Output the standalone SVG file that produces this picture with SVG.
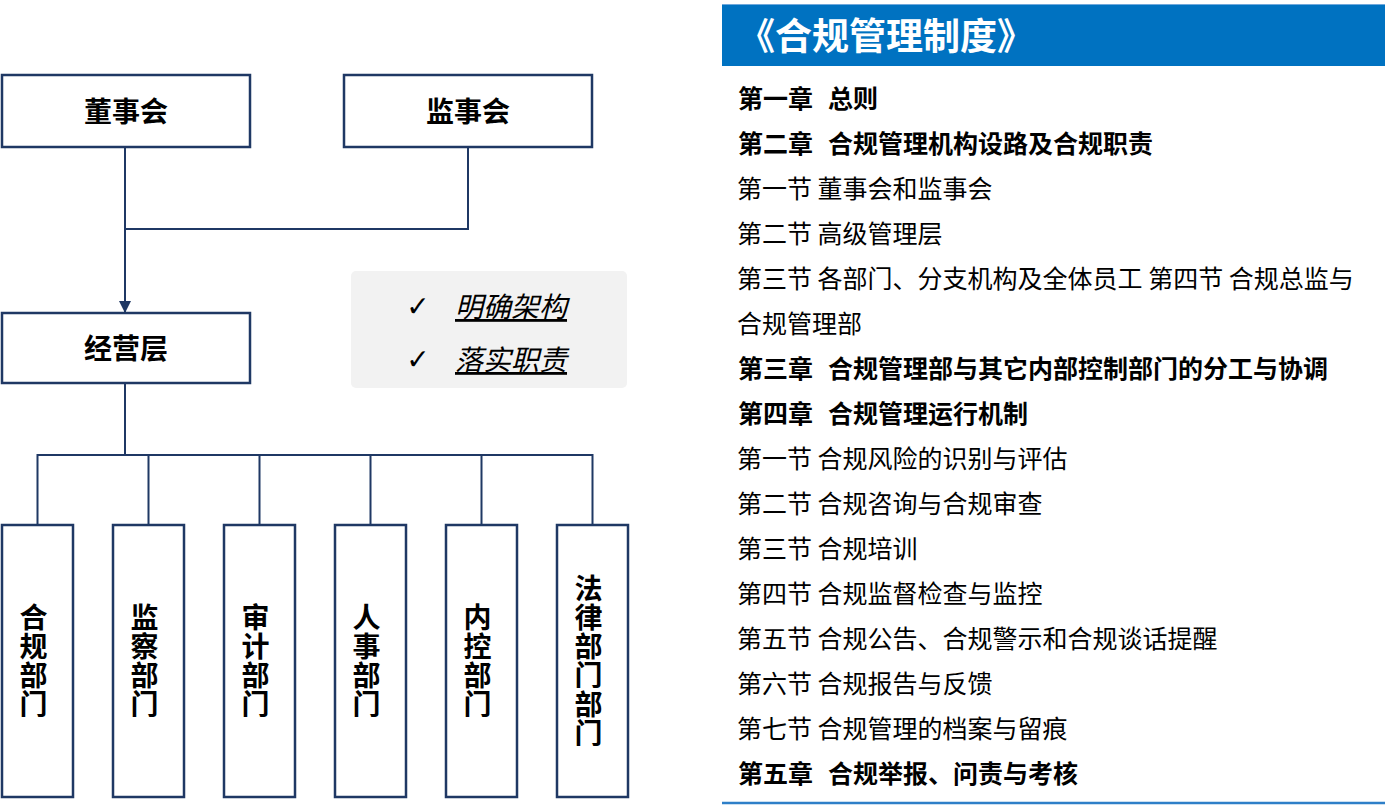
<svg xmlns="http://www.w3.org/2000/svg" width="1385" height="806" viewBox="0 0 1385 806">
<style>
.box{fill:#fff;stroke:#1F3864;stroke-width:2.5}
.ln{fill:none;stroke:#1F3864;stroke-width:2}
.nt{font-family:"Noto Sans CJK SC","Microsoft YaHei",sans-serif;font-weight:700;font-size:28px;fill:#000;text-anchor:middle}
.vt{font-family:"Noto Sans CJK SC","Microsoft YaHei",sans-serif;font-weight:700;font-size:28px;fill:#000;text-anchor:middle;writing-mode:vertical-rl;letter-spacing:1px}
.chk{font-family:"DejaVu Sans",sans-serif;font-size:28px;fill:#000;text-anchor:middle}
.it{font-family:"Noto Sans CJK SC","Microsoft YaHei",sans-serif;font-style:italic;font-size:28px;fill:#000;text-decoration:underline}
.reg{font-family:"Noto Sans CJK SC","Microsoft YaHei",sans-serif;font-size:25px;fill:#000}
.bld{font-family:"Noto Sans CJK SC","Microsoft YaHei",sans-serif;font-weight:700;font-size:25px;fill:#000}
.ttl{font-family:"Noto Sans CJK SC","Microsoft YaHei",sans-serif;font-weight:700;font-size:37px;fill:#fff}
</style>
<defs>
<marker id="arr" viewBox="0 0 12 12" refX="12" refY="6" markerWidth="12" markerHeight="12" markerUnits="userSpaceOnUse" orient="auto">
<path d="M0,0 L12,6 L0,12 Z" fill="#1F3864"/>
</marker>
</defs>
<rect width="1385" height="806" fill="#fff"/>

<g id="connectors">
<path class="ln" d="M125 147 V313" marker-end="url(#arr)"/>
<path class="ln" d="M468 147 V229 H125"/>
<path class="ln" d="M125 383 V455"/>
<path class="ln" d="M37.5 525 V455 H592.5 V525"/>
<path class="ln" d="M148.5 455 V525 M259.5 455 V525 M370.5 455 V525 M481.5 455 V525"/>
</g>

<g id="dongshihui">
<rect class="box" x="2" y="75" width="248" height="72"/>
<text class="nt" x="126" y="122">董事会</text>
</g>
<g id="jianshihui">
<rect class="box" x="344" y="75" width="248" height="72"/>
<text class="nt" x="468" y="122">监事会</text>
</g>
<g id="jingyingceng">
<rect class="box" x="2" y="313" width="248" height="70"/>
<text class="nt" x="126" y="359">经营层</text>
</g>

<g id="notes">
<rect x="351" y="271" width="276" height="117" rx="5" fill="#F2F2F2"/>
<text class="chk" x="418" y="316">✓</text>
<text class="it" x="455" y="317">明确架构</text>
<text class="chk" x="418" y="369">✓</text>
<text class="it" x="455" y="370">落实职责</text>
</g>

<g id="dept1">
<rect class="box" x="2" y="525" width="71" height="272"/>
<text class="vt" x="33.5" y="661">合规部门</text>
</g>
<g id="dept2">
<rect class="box" x="113" y="525" width="71" height="272"/>
<text class="vt" x="144.5" y="661">监察部门</text>
</g>
<g id="dept3">
<rect class="box" x="224" y="525" width="71" height="272"/>
<text class="vt" x="255.5" y="661">审计部门</text>
</g>
<g id="dept4">
<rect class="box" x="335" y="525" width="71" height="272"/>
<text class="vt" x="366.5" y="661">人事部门</text>
</g>
<g id="dept5">
<rect class="box" x="446" y="525" width="71" height="272"/>
<text class="vt" x="477.5" y="661">内控部门</text>
</g>
<g id="dept6">
<rect class="box" x="557" y="525" width="71" height="272"/>
<text class="vt" x="588.5" y="661">法律部门部门</text>
</g>

<g id="policy">
<rect x="722" y="4" width="663" height="62" fill="#0072C1"/>
<line x1="722" y1="4.5" x2="1385" y2="4.5" stroke="#6FA8DC" stroke-width="1"/>
<text class="ttl" x="738" y="50">《合规管理制度》</text>
<text class="bld" x="738" y="108"><tspan>第一章  </tspan><tspan x="828">总则</tspan></text>
<text class="bld" x="738" y="153"><tspan>第二章  </tspan><tspan x="828">合规管理机构设路及合规职责</tspan></text>
<text class="reg" x="737" y="198">第一节 董事会和监事会</text>
<text class="reg" x="737" y="243">第二节 高级管理层</text>
<text class="reg" x="737" y="288">第三节 各部门、分支机构及全体员工 第四节 合规总监与</text>
<text class="reg" x="737" y="333">合规管理部</text>
<text class="bld" x="738" y="378"><tspan>第三章  </tspan><tspan x="828">合规管理部与其它内部控制部门的分工与协调</tspan></text>
<text class="bld" x="738" y="423"><tspan>第四章  </tspan><tspan x="828">合规管理运行机制</tspan></text>
<text class="reg" x="737" y="468">第一节 合规风险的识别与评估</text>
<text class="reg" x="737" y="513">第二节 合规咨询与合规审查</text>
<text class="reg" x="737" y="558">第三节 合规培训</text>
<text class="reg" x="737" y="603">第四节 合规监督检查与监控</text>
<text class="reg" x="737" y="648">第五节 合规公告、合规警示和合规谈话提醒</text>
<text class="reg" x="737" y="693">第六节 合规报告与反馈</text>
<text class="reg" x="737" y="738">第七节 合规管理的档案与留痕</text>
<text class="bld" x="738" y="783"><tspan>第五章  </tspan><tspan x="828">合规举报、问责与考核</tspan></text>
<line x1="722" y1="803" x2="1385" y2="803" stroke="#2E7FC8" stroke-width="2.5"/>
</g>
</svg>
